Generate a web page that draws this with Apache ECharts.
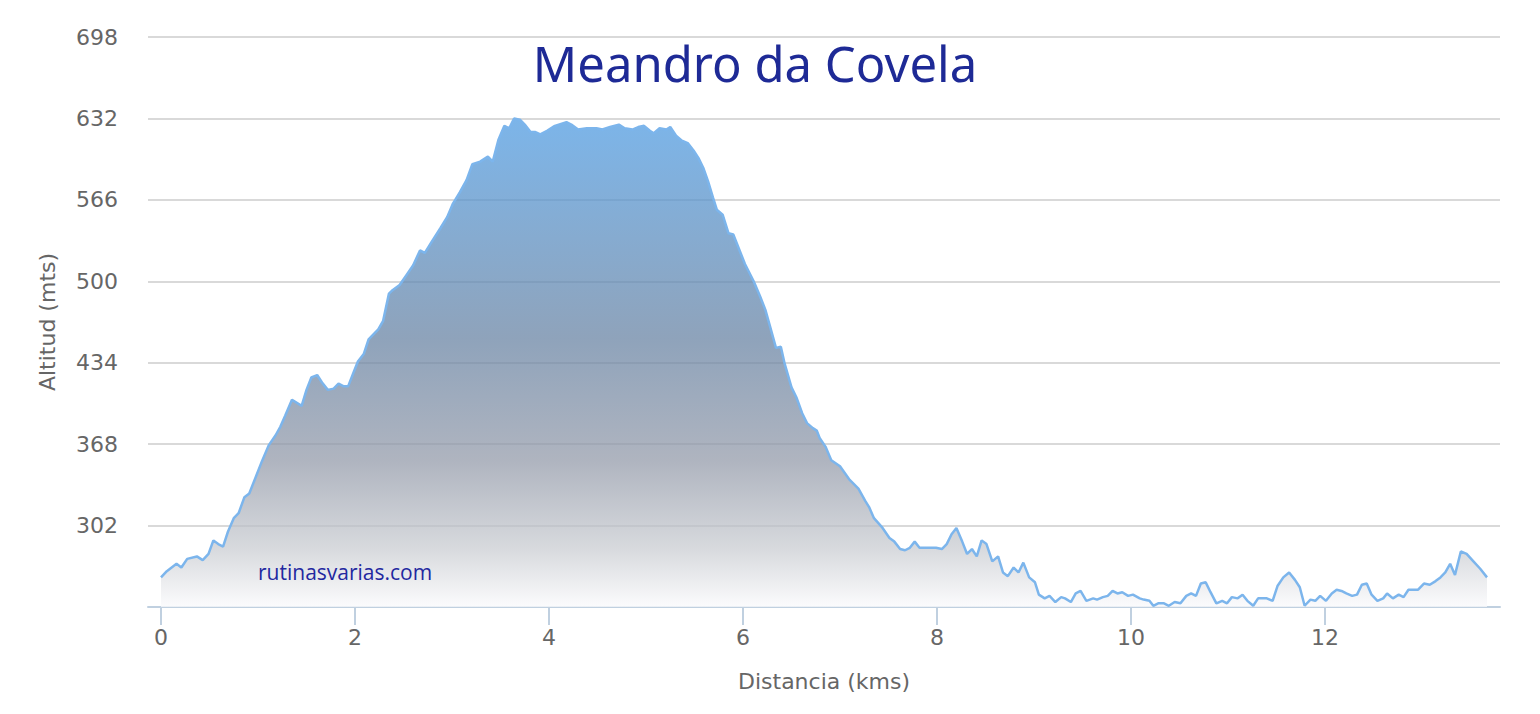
<!DOCTYPE html>
<html>
<head>
<meta charset="utf-8">
<style>html,body{margin:0;padding:0;background:#fff}#c{width:1540px;height:714px}</style>
<script src="https://cdn.jsdelivr.net/npm/echarts@6/dist/echarts.min.js"></script>
</head>
<body>
<div id="c"></div>
<script>
const chartTitle = "Meandro da Covela";
const watermark = "rutinasvarias.com";
const xAxisName = "Distancia (kms)";
const yAxisName = "Altitud (mts)";
const xTickValues = [0, 2, 4, 6, 8, 10, 12];
const yTickValues = [302, 368, 434, 500, 566, 632, 698];

const distKm = [
  0.00,0.06,0.16,0.21,0.27,0.37,0.43,0.49,0.54,0.59,0.64,0.69,0.75,0.80,0.86,0.91,0.97,1.04,1.11,1.18,1.23,1.28,1.35,1.45,1.50,1.55,1.61,1.66,1.72,1.78,1.83,1.88,1.93,1.98,2.03,2.09,2.14,2.19,2.24,
  2.29,2.35,2.39,2.46,2.53,2.60,2.67,2.72,2.79,2.88,2.95,3.01,3.08,3.15,3.21,3.29,3.37,3.42,3.48,3.54,3.59,3.64,3.70,3.75,3.81,3.86,3.91,3.98,4.06,4.18,4.23,4.30,
  4.39,4.49,4.55,4.63,4.72,4.78,4.86,4.92,4.98,5.04,5.08,5.14,5.21,5.25,5.31,5.37,5.43,5.49,5.54,5.59,5.64,5.69,5.73,5.79,5.85,5.90,5.96,6.02,6.11,6.18,6.23,6.28,6.34,6.39,6.43,6.50,6.55,6.61,6.66,6.72,6.76,6.79,
  6.85,6.91,7.00,7.10,7.19,7.26,7.30,7.35,7.43,7.51,7.56,7.62,7.67,7.72,7.77,7.82,7.90,7.99,8.05,8.10,8.15,8.20,8.26,8.31,8.36,8.41,8.46,8.51,8.57,8.63,8.68,8.73,8.79,8.84,8.89,8.95,9.01,9.05,
  9.11,9.16,9.22,9.28,9.32,9.38,9.43,9.48,9.54,9.61,9.65,9.71,9.76,9.81,9.86,9.91,9.97,10.02,10.09,10.13,10.19,10.23,10.28,10.34,10.39,10.45,10.51,10.57,10.62,10.67,10.72,10.77,10.82,10.88,10.94,10.99,11.04,11.10,11.15,11.20,11.26,
  11.31,11.40,11.46,11.51,11.57,11.63,11.69,11.74,11.79,11.85,11.90,11.95,12.01,12.07,12.12,12.17,12.22,12.28,12.33,12.38,12.43,12.48,12.54,12.60,12.64,12.70,12.76,12.81,12.86,12.96,13.02,13.08,13.14,13.19,13.24,13.29,13.34,13.40,13.46,13.53,13.60,13.67
];
const altitudeM = [
  260,265,271,268,275,277,274,279,290,287,285,297,308,312,325,328,340,354,367,375,382,391,404,399,412,422,424,418,412,413,417,415,415,425,435,441,453,457,461,
  468,490,493,497,505,513,525,523,532,543,552,563,572,582,595,597,601,597,615,626,624,632,631,627,621,621,619,622,626,629,627,623,
  624,624,623,625,627,624,623,625,626,622,620,624,623,625,618,614,612,606,600,592,581,568,558,554,539,538,526,514,500,487,477,463,446,447,433,414,406,393,385,381,379,373,
  366,355,350,339,332,322,317,308,301,292,289,283,282,284,289,284,284,284,283,287,295,300,289,279,283,277,290,287,273,277,264,261,268,264,272,260,256,246,
  243,245,240,244,243,240,247,249,241,243,242,244,245,249,247,248,245,246,243,242,241,237,239,239,237,240,239,245,247,245,255,256,248,239,241,239,244,243,246,241,237,
  243,243,241,253,260,264,258,252,237,242,241,245,241,247,250,249,247,245,246,254,255,246,241,243,247,243,246,244,250,250,255,254,257,260,264,271,262,281,279,273,267,260
];

const seriesData = distKm.map((d, i) => [d, altitudeM[i]]);
const yMin = 236, yMax = 698, yStep = 66;
const labelFont = 'DejaVu Sans';

const chart = echarts.init(document.getElementById('c'), null, {renderer: 'svg'});
chart.setOption({
  animation: false,
  backgroundColor: '#ffffff',
  grid: {left: 148, right: 40, top: 37, bottom: 107, containLabel: false},
  graphic: [
    {type: 'text', x: 755, y: 63, z: 10,
     style: {text: chartTitle, font: '49px "Noto Sans"', fill: '#1e2a96', textAlign: 'center', textVerticalAlign: 'middle'}},
    {type: 'text', x: 258, y: 572, z: 10,
     style: {text: watermark, font: '21px "Open Sans"', fill: '#2328a0', textAlign: 'left', textVerticalAlign: 'middle'}}
  ],
  xAxis: {
    type: 'value',
    min: -0.134, max: 13.804,
    name: xAxisName, nameLocation: 'middle', nameGap: 63,
    nameTextStyle: {color: '#666666', fontSize: 22, fontFamily: labelFont},
    axisLine: {show: true, lineStyle: {color: '#c0d0e0', width: 2}},
    axisTick: {show: true, length: 18, lineStyle: {color: '#c0d0e0', width: 2}, customValues: xTickValues},
    axisLabel: {color: '#666666', fontSize: 22, fontFamily: labelFont, margin: 19, customValues: xTickValues},
    splitLine: {show: false}
  },
  yAxis: {
    type: 'value',
    min: yMin, max: yMax, interval: yStep,
    name: yAxisName, nameLocation: 'middle', nameGap: 90,
    nameTextStyle: {color: '#666666', fontSize: 22, fontFamily: labelFont},
    axisLine: {show: false},
    axisTick: {show: false},
    axisLabel: {color: '#666666', fontSize: 22, fontFamily: labelFont, margin: 30, showMinLabel: false,
      formatter: v => (yTickValues.indexOf(v) >= 0 ? String(v) : '')},
    splitLine: {show: true, lineStyle: {color: '#d9d9d9', width: 2}}
  },
  series: [{
    type: 'line',
    data: seriesData,
    showSymbol: false,
    smooth: false,
    lineStyle: {color: '#7cb5ec', width: 2.5},
    areaStyle: {
      opacity: 0.75,
      color: new echarts.graphic.LinearGradient(0, 0, 0, 1, [
        {offset: 0, color: 'rgb(80,156,226)'},
        {offset: 0.45, color: 'rgb(105,132,164)'},
        {offset: 0.7, color: 'rgb(148,155,170)'},
        {offset: 0.88, color: 'rgb(202,205,210)'},
        {offset: 1, color: 'rgb(250,250,252)'}
      ])
    }
  }]
});
</script>
</body>
</html>
